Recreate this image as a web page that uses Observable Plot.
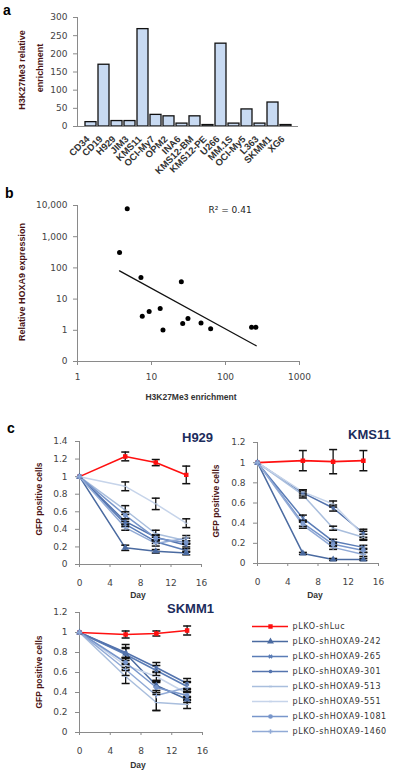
<!DOCTYPE html>
<html><head><meta charset="utf-8">
<script src="https://cdn.jsdelivr.net/npm/d3@7"></script>
<script src="https://cdn.jsdelivr.net/npm/@observablehq/plot@0.6"></script>
<style>
body{margin:0;background:#fff;width:400px;height:775px;position:relative;overflow:hidden;font-family:"Liberation Sans",Arial,sans-serif;}
.abs{position:absolute;}
.plabel{position:absolute;font-weight:bold;font-size:14px;color:#000;line-height:1;}
.ytitle{position:absolute;font-weight:bold;color:#4a1414;white-space:nowrap;line-height:1;transform:translate(-50%,-50%) rotate(-90deg);}
.xtitle{position:absolute;font-weight:bold;color:#333;white-space:nowrap;line-height:1;transform:translate(-50%,-50%);}
.ctitle{position:absolute;font-weight:bold;font-size:13px;color:#1c2c5c;line-height:1;}
</style></head>
<body>
<div class="plabel" style="left:3px;top:3px;">a</div>
<div class="plabel" style="left:5px;top:186px;">b</div>
<div class="plabel" style="left:7px;top:421px;">c</div>

<div class="ytitle" style="left:22px;top:70px;font-size:9px;">H3K27Me3 relative</div>
<div class="ytitle" style="left:40px;top:68px;font-size:9px;">enrichment</div>
<div class="ytitle" style="left:22px;top:282px;font-size:9px;">Relative HOXA9 expression</div>
<div class="xtitle" style="left:191px;top:397px;font-size:8.5px;">H3K27Me3 enrichment</div>

<div class="ytitle" style="left:39px;top:499px;font-size:8.5px;">GFP positive cells</div>
<div class="ytitle" style="left:216px;top:501px;font-size:8.5px;">GFP positive cells</div>
<div class="ytitle" style="left:39px;top:672px;font-size:8.5px;">GFP positive cells</div>
<div class="xtitle" style="left:138px;top:595px;font-size:8.5px;">Day</div>
<div class="xtitle" style="left:315px;top:595px;font-size:8.5px;">Day</div>
<div class="xtitle" style="left:138px;top:765px;font-size:8.5px;">Day</div>
<div class="ctitle" style="left:182px;top:431px;">H929</div>
<div class="ctitle" style="left:348px;top:428px;">KMS11</div>
<div class="ctitle" style="left:167px;top:602px;">SKMM1</div>

<div id="pa" class="abs" style="left:0;top:0;"></div>
<div id="pb" class="abs" style="left:0;top:190px;"></div>
<div id="pc1" class="abs" style="left:0;top:425px;"></div>
<div id="pc2" class="abs" style="left:200px;top:425px;"></div>
<div id="pc3" class="abs" style="left:0;top:595px;"></div>
<div id="leg" class="abs" style="left:245px;top:615px;"></div>
<script>
// ---------- Panel a data ----------
const cellLines = ["CD34","CD19","H929","JIM3","KMS11","OCI-My7","OPM2","INA6","KMS12-BM","KMS12-PE","U266","MM.1S","OCI-My5","L363","SKMM1","XG6"];
const enrichment = [12,170,15,15,268,32,28,8,28,4,228,8,47,8,66,4];
const enrichTicks = [0,50,100,150,200,250,300];

// ---------- Panel b data ----------
const enrichX = [4.7,3.7,7.2,7.5,9.3,13.1,14.3,25.3,26.4,31.1,46.7,63,225,257];
const hoxa9Y = [7800,310,49,2.8,4.0,5.0,1.02,36,1.64,2.4,1.7,1.13,1.25,1.25];
const trendX = [3.7, 260];
const trendY = [80, 0.32];
const bXTicks = [1,10,100,1000];
const bYTicks = [0.1,1,10,100,1000,10000];
const r2Label = "R² = 0.41";

// ---------- Panel c data ----------
const days = [0, 6, 10, 14];
const dayTicks = [0, 4, 8, 12, 16];
const seriesNames = ["pLKO-shLuc","pLKO-shHOXA9-242","pLKO-shHOXA9-265","pLKO-shHOXA9-301","pLKO-shHOXA9-513","pLKO-shHOXA9-551","pLKO-shHOXA9-1081","pLKO-shHOXA9-1460"];
const h929Values = [
  [1, 1.23, 1.16, 1.02],
  [1, 0.19, 0.15, 0.13],
  [1, 0.46, 0.26, 0.16],
  [1, 0.49, 0.31, 0.22],
  [1, 0.62, 0.35, 0.27],
  [1, 0.89, 0.69, 0.47],
  [1, 0.56, 0.30, 0.25],
  [1, 0.42, 0.24, 0.30]
];
const h929Errors = [
  [0, 0.05, 0.035, 0.10],
  [0, 0.03, 0.02, 0.02],
  [0, 0.03, 0.02, 0.02],
  [0, 0.03, 0.03, 0.02],
  [0, 0.05, 0.04, 0.03],
  [0, 0.05, 0.065, 0.05],
  [0, 0.04, 0.03, 0.02],
  [0, 0.03, 0.03, 0.03]
];
const h929Ticks = [0,0.2,0.4,0.6,0.8,1,1.2,1.4];

const kms11Values = [
  [1, 1.02, 1.01, 1.02],
  [1, 0.10, 0.04, 0.04],
  [1, 0.45, 0.22, 0.16],
  [1, 0.70, 0.55, 0.30],
  [1, 0.68, 0.35, 0.26],
  [1, 0.71, 0.59, 0.28],
  [1, 0.40, 0.19, 0.13],
  [1, 0.38, 0.16, 0.09]
];
const kms11Errors = [
  [0, 0.10, 0.12, 0.10],
  [0, 0.01, 0.01, 0.01],
  [0, 0.03, 0.02, 0.02],
  [0, 0.03, 0.03, 0.04],
  [0, 0.03, 0.02, 0.03],
  [0, 0.02, 0.03, 0.04],
  [0, 0.03, 0.02, 0.02],
  [0, 0.03, 0.02, 0.02]
];
const kms11Ticks = [0,0.2,0.4,0.6,0.8,1,1.2];

const skmm1Values = [
  [1, 0.98, 0.99, 1.02],
  [1, 0.79, 0.47, 0.33],
  [1, 0.78, 0.62, 0.46],
  [1, 0.80, 0.65, 0.49],
  [1, 0.56, 0.30, 0.28],
  [1, 0.67, 0.56, 0.39],
  [1, 0.70, 0.45, 0.37],
  [1, 0.63, 0.37, 0.45]
];
const skmm1Errors = [
  [0, 0.035, 0.025, 0.045],
  [0, 0.05, 0.05, 0.03],
  [0, 0.10, 0.05, 0.05],
  [0, 0.05, 0.05, 0.05],
  [0, 0.07, 0.08, 0.04],
  [0, 0.05, 0.05, 0.04],
  [0, 0.05, 0.05, 0.04],
  [0, 0.06, 0.15, 0.05]
];
const skmm1Ticks = [0,0.2,0.4,0.6,0.8,1,1.2];

// ---------- styles ----------
const seriesColors = ["#ff1010","#4a6aa0","#5a7cb6","#5474ae","#a9bedd","#c6d4ea","#7896cb","#91aad6"];
const capSymbol = {draw(ctx, size){ const r = Math.sqrt(size/Math.PI); ctx.moveTo(-r,0); ctx.lineTo(r,0); }};
const seriesSymbols = ["square","triangle","times","asterisk",capSymbol,capSymbol,"circle","plus"];
const axisColor = "#8a8a8a";
const baseStyle = {fontFamily:"DejaVu Sans", fontSize:"9px", color:"#444", background:"transparent", overflow:"visible"};

// ---------- Panel a ----------
document.getElementById("pa").append(Plot.plot({
  width: 310, height: 175,
  marginLeft: 77, marginRight: 12, marginTop: 17, marginBottom: 49,
  style: baseStyle,
  x: {domain: cellLines, padding: 0.16, axis: null},
  y: {domain: [0, 300], axis: null},
  marks: [
    Plot.barY(cellLines, {x: d => d, y: (d, i) => enrichment[i], fill: "#c8daf2", stroke: "#111", strokeWidth: 1.3}),
    Plot.frame({anchor: "left", stroke: axisColor}),
    Plot.ruleY([0], {stroke: axisColor}),
    Plot.axisY({ticks: enrichTicks, label: null, tickSize: 4, tickPadding: 6, stroke: axisColor, fill: "#444"}),
    Plot.axisX({label: null, tickRotate: -45, tickSize: 0, tickPadding: 11, dx: -3, fontWeight: "bold", fontFamily: "Liberation Sans", fontSize: 9.5, fill: "#333"})
  ]
}));

// ---------- Panel b ----------
const pts = enrichX.map((x, i) => ({x, y: hoxa9Y[i]}));
const trend = trendX.map((x, i) => ({x, y: trendY[i]}));
document.getElementById("pb").append(Plot.plot({
  width: 310, height: 220,
  marginLeft: 77, marginRight: 11, marginTop: 15, marginBottom: 49,
  style: baseStyle,
  x: {type: "log", domain: [1, 1000], axis: null},
  y: {type: "log", domain: [0.1, 10000], axis: null},
  marks: [
    Plot.frame({anchor: "left", stroke: axisColor}),
    Plot.frame({anchor: "bottom", stroke: axisColor}),
    Plot.axisY({ticks: bYTicks, label: null, tickSize: 4, tickPadding: 6, stroke: axisColor, fill: "#444", tickFormat: d => d < 1 ? "0" : d3.format(",")(d)}),
    Plot.axisX({ticks: bXTicks, label: null, tickSize: 4, tickPadding: 8, stroke: axisColor, fill: "#444", tickFormat: d => String(d)}),
    Plot.line(trend, {x: "x", y: "y", stroke: "#111", strokeWidth: 1.3}),
    Plot.dot(pts, {x: "x", y: "y", r: 2.5, fill: "#000"}),
    Plot.text([r2Label], {frameAnchor: "top-left", dx: 131, dy: 1, textAnchor: "start", fill: "#222", fontSize: 9})
  ]
}));

// ---------- Panel c ----------
function growthPanel(id, values, errors, yMax, yTicks, w, h, mL, mR, mT, mB, xPad) {
  const rows = [];
  seriesNames.forEach((s, si) => days.forEach((d, di) =>
    rows.push({series: s, day: d, value: values[si][di], err: errors[si][di], ctrl: si === 0})));
  const errRows = rows.filter(r => r.err > 0);
  document.getElementById(id).append(Plot.plot({
    width: w, height: h,
    marginLeft: mL, marginRight: mR, marginTop: mT, marginBottom: mB,
    style: baseStyle,
    x: {domain: [0, 16], axis: null},
    y: {domain: [0, yMax], axis: null},
    color: {domain: seriesNames, range: seriesColors},
    symbol: {domain: seriesNames, range: seriesSymbols},
    marks: [
      Plot.frame({anchor: "left", stroke: axisColor}),
      Plot.frame({anchor: "bottom", stroke: axisColor}),
      Plot.axisY({ticks: yTicks, label: null, tickSize: 4, tickPadding: 8, stroke: axisColor, fill: "#444", tickFormat: d => String(d)}),
      Plot.axisX({ticks: dayTicks, label: null, tickSize: 3, tickPadding: xPad, stroke: axisColor, fill: "#444"}),
      Plot.line(rows.filter(r => !r.ctrl), {x: "day", y: "value", z: "series", stroke: "series", strokeWidth: 1.5}),
      Plot.line(rows.filter(r => r.ctrl), {x: "day", y: "value", z: "series", stroke: "series", strokeWidth: 1.6}),
      Plot.ruleX(errRows, {x: "day", y1: d => d.value - d.err, y2: d => d.value + d.err, stroke: "#111", strokeWidth: 1.3}),
      Plot.dot(errRows, {x: "day", y: d => d.value - d.err, symbol: capSymbol, r: 4, stroke: "#111", strokeWidth: 1.5}),
      Plot.dot(errRows, {x: "day", y: d => d.value + d.err, symbol: capSymbol, r: 4, stroke: "#111", strokeWidth: 1.5}),
      Plot.dot(rows, {x: "day", y: "value", symbol: "series", fill: "series", stroke: "series", r: 1.9, strokeWidth: 1.1})
    ]
  }));
}
growthPanel("pc1", h929Values, h929Errors, 1.4, h929Ticks, 205, 175, 79, 4, 16, 36, 12);
growthPanel("pc2", kms11Values, kms11Errors, 1.2, kms11Ticks, 185, 175, 57, 7, 17, 37, 12);
growthPanel("pc3", skmm1Values, skmm1Errors, 1.2, skmm1Ticks, 206, 180, 79, 4, 17, 43, 12);

// ---------- Legend ----------
document.getElementById("leg").append(Plot.plot({
  width: 155, height: 125,
  marginLeft: 7, marginRight: 112, marginTop: 9, marginBottom: 8,
  style: {...baseStyle, fontSize: "8px", letterSpacing: "0.6px"},
  x: {domain: [0, 1], axis: null},
  y: {type: "point", domain: seriesNames, padding: 0, axis: null},
  color: {domain: seriesNames, range: seriesColors},
  symbol: {domain: seriesNames, range: seriesSymbols},
  marks: [
    Plot.ruleY(seriesNames, {y: d => d, stroke: d => d, strokeWidth: 1.6}),
    Plot.dot(seriesNames, {y: d => d, frameAnchor: "middle", symbol: d => d, fill: d => d, stroke: d => d, r: 1.6}),
    Plot.text(seriesNames, {y: d => d, text: d => d, frameAnchor: "right", dx: 4, textAnchor: "start", fill: "#333"})
  ]
}));
</script>
</body></html>
